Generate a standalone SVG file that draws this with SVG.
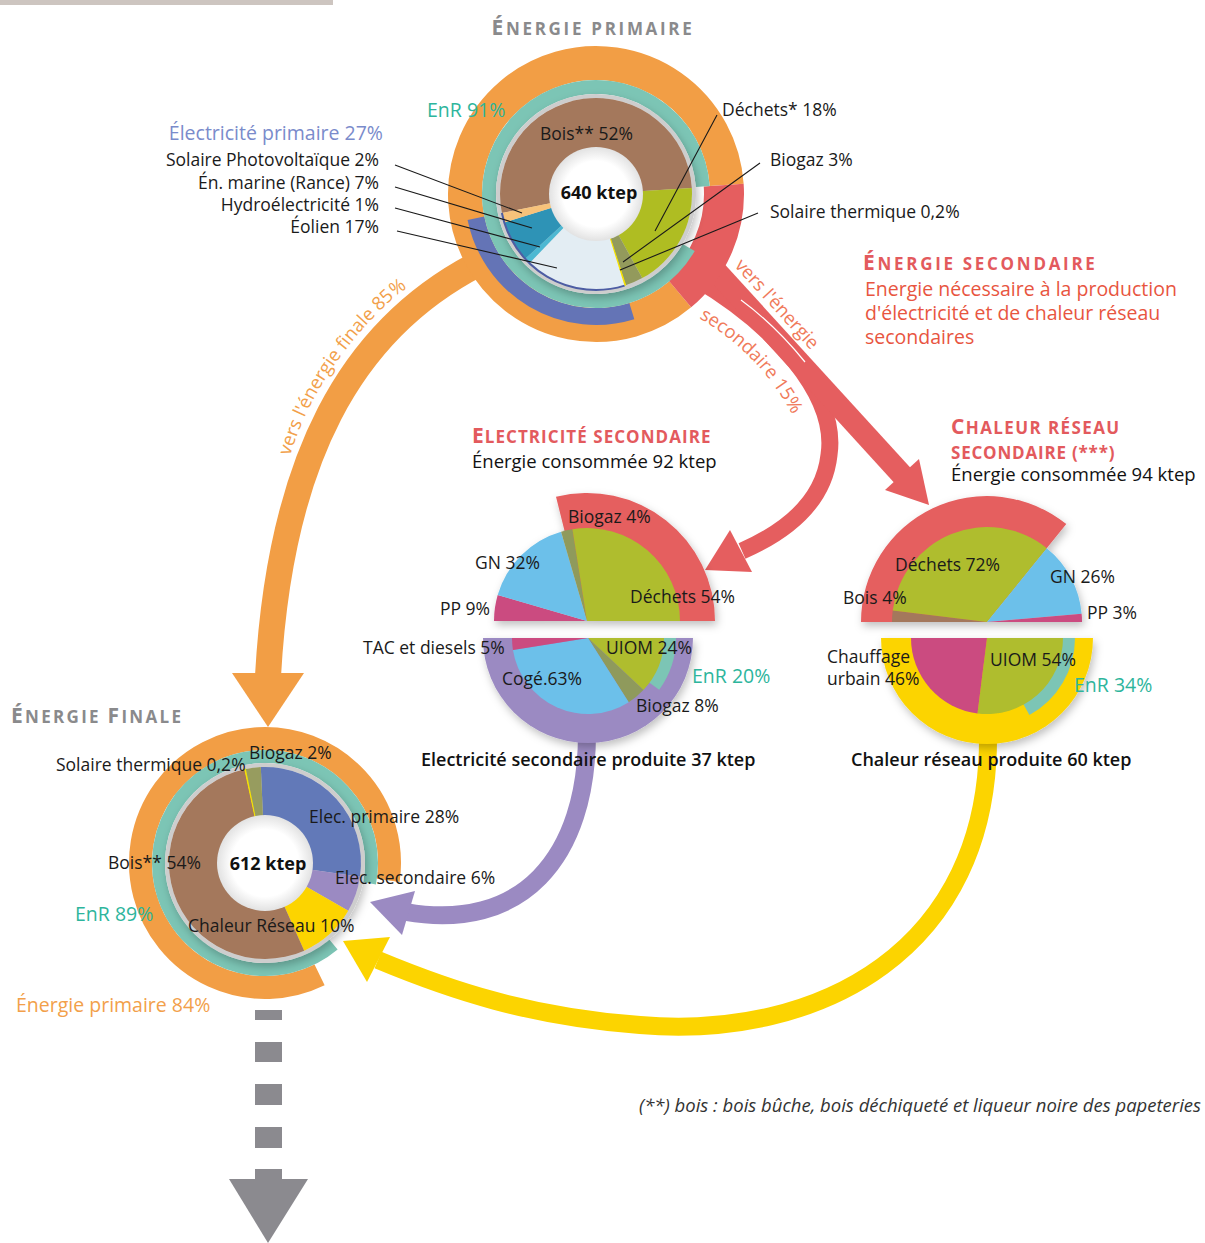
<svg xmlns="http://www.w3.org/2000/svg" width="1205" height="1243" viewBox="0 0 1205 1243">
<defs>
<style>
text{font-family:'Open Sans','Noto Sans','DejaVu Sans',sans-serif;}
.lb{font-size:17.5px;fill:#1a1a1a;}
.bk{font-size:18px;font-weight:700;fill:#111;}
.sub{font-size:18.5px;fill:#111;}
.prod{font-size:18px;font-weight:600;fill:#111;}
.ttl{font-weight:700;font-size:17px;letter-spacing:2px;}
.cap{font-size:21px;}
.gray{fill:#8a8a8c;}
.red{fill:#e35a5d;}
.enr{font-size:19.5px;fill:#2db59c;}
.para{font-size:19.5px;fill:#e8553f;}
.arrl{font-size:18.5px;fill:#f07a5a;}
.arro{font-size:18.5px;fill:#f2a04a;}
.ld{stroke:#1a1a1a;stroke-width:1.1;fill:none;}
.ring{fill:none;}
</style>
<filter id="sh" x="-20%" y="-20%" width="140%" height="150%">
<feDropShadow dx="2" dy="4" stdDeviation="4" flood-color="#000" flood-opacity="0.25"/>
</filter>
<radialGradient id="hole" cx="0.5" cy="0.5" r="0.5">
<stop offset="0.7" stop-color="#ffffff"/>
<stop offset="1" stop-color="#e2e2e2"/>
</radialGradient>
</defs>

<rect x="0" y="0" width="333" height="5" fill="#cdc5c0"/>

<g id="connectors">
 <g id="flow-finale">
  <path d="M478 264 C350 330 280 460 268 676" stroke="#f29e45" stroke-width="26" fill="none"/>
  <polygon points="232,673 304,673 268,727" fill="#f29e45"/>
  <path id="tp-fin" d="M290 456 C305 405 340 345 398 294 L470 245" fill="none"/>
  <text class="arro"><textPath href="#tp-fin">vers l'énergie finale 85%</textPath></text>
 </g>
 <g id="flow-sec-elec">
  <path d="M695 278 C775 325 838 395 829 455 C824 500 790 530 742 551" stroke="#e55e5f" stroke-width="17" fill="none"/>
  <polygon points="705,570 730,530 752,572" fill="#e55e5f"/>
 </g>
 <g id="flow-sec-chaleur">
  <path d="M705 259 L903 476" stroke="#e55e5f" stroke-width="22" fill="none"/>
  <polygon points="929,505 885,490 919,459" fill="#e55e5f"/>
 </g>
 <path d="M741 300 Q775 325 805 362" stroke="#ffffff" stroke-width="1.2" fill="none"/>
 <path id="tp-vers" d="M734 266 L880 426" fill="none"/>
 <text class="arrl"><textPath href="#tp-vers">vers l'énergie</textPath></text>
 <path id="tp-sec" d="M699 318 Q774 362 808 448" fill="none"/>
 <text class="arrl"><textPath href="#tp-sec">secondaire 15%</textPath></text>
 <g id="flow-elec-finale">
  <path d="M587 730 C588 860 520 932 406 912" stroke="#9b8ac2" stroke-width="18" fill="none"/>
  <polygon points="370,902 415,891 402,935" fill="#9b8ac2"/>
 </g>
 <g id="flow-chaleur-finale">
  <path d="M988 735 C990 950 820 1040 640 1025 C530 1017 450 990 378 960" stroke="#fcd400" stroke-width="18" fill="none"/>
  <polygon points="343,941 390,937 367,982" fill="#fcd400"/>
 </g>
 <g id="flow-usage" fill="#8b8a8f">
  <rect x="255" y="1010" width="27" height="10"/>
  <rect x="255" y="1042" width="27" height="20"/>
  <rect x="255" y="1084" width="27" height="21"/>
  <rect x="255" y="1127" width="27" height="21"/>
  <rect x="255" y="1169" width="27" height="11"/>
  <polygon points="229,1179 308,1179 268,1243"/>
 </g>
</g>

<g id="node-primaire">
 <text x="593" y="35" text-anchor="middle" class="ttl gray" style="letter-spacing:2.7px"><tspan class="cap">É</tspan>NERGIE PRIMAIRE</text>
 <path class="ring" d="M680.21 294.35 A131 131 0 1 1 726.68 184.86" stroke="#f29e45" stroke-width="34"/>
 <path d="M743.64 183.68 A148 148 0 0 1 691.13 307.37 L665.42 276.73 A108 108 0 0 0 703.74 186.47 Z" fill="#e55e5f"/>
 <path class="ring" d="M631.82 311.15 A122.5 122.5 0 0 1 475.91 218.22" stroke="#6474b6" stroke-width="17"/>
 <path class="ring" d="M688.66 247.5 A107 107 0 1 1 702.74 186.53" stroke="#7cc5b5" stroke-width="14"/>
 <g filter="url(#sh)">
  <circle cx="596" cy="194" r="98" fill="none" stroke="#cdcdcd" stroke-width="4"/>
  <path d="M596 194 L501.89 212.98 A96 96 0 1 1 691.81 187.97 Z" fill="#a4785c"/>
  <path d="M596 194 L691.81 187.97 A96 96 0 0 1 642.25 278.12 Z" fill="#afbd22"/>
  <path d="M596 194 L642.25 278.12 A96 96 0 0 1 625.66 285.30 Z" fill="#939a5c"/>
  <path d="M596 194 L625.66 285.30 A96 96 0 0 1 624.55 285.66 Z" fill="#f5e100" stroke="#f5e100" stroke-width="1"/>
  <path d="M596 194 L624.55 285.66 A96 96 0 0 1 529.43 263.18 Z" fill="#e3edf3"/>
  <path d="M596 194 L529.43 263.18 A96 96 0 0 1 525.22 258.86 Z" fill="#4db8d2"/>
  <path d="M596 194 L525.22 258.86 A96 96 0 0 1 504.34 222.55 Z" fill="#2f93b6"/>
  <path d="M596 194 L504.34 222.55 A96 96 0 0 1 501.89 212.98 Z" fill="#f7c27a"/>
  <path class="ring" d="M624.55 285.66 A96 96 0 0 1 501.89 212.98" stroke="#4d5da3" stroke-width="2"/>
  <circle cx="596" cy="194" r="47" fill="url(#hole)"/>
 </g>
 <text x="540" y="140" class="lb">Bois** 52%</text>
 <text x="599" y="199" text-anchor="middle" class="bk">640 ktep</text>
 <text x="427" y="117" class="enr">EnR 91%</text>
 <text x="383" y="140" text-anchor="end" style="font-size:19.5px;fill:#7a8bcb">Électricité primaire 27%</text>
 <text x="379" y="166" text-anchor="end" class="lb">Solaire Photovoltaïque 2%</text>
 <text x="379" y="189" text-anchor="end" class="lb">Én. marine (Rance) 7%</text>
 <text x="379" y="211" text-anchor="end" class="lb">Hydroélectricité 1%</text>
 <text x="379" y="233" text-anchor="end" class="lb">Éolien 17%</text>
 <text x="722" y="116" class="lb">Déchets* 18%</text>
 <text x="770" y="166" class="lb">Biogaz 3%</text>
 <text x="770" y="218" class="lb">Solaire thermique 0,2%</text>
 <path class="ld" d="M395 165 L522 213 M395 187 L532 228 M395 208 L540 247 M397 231 L557 268 M717 115 L655 231 M760 163 L623 262 M758 213 L620 270"/>
</g>

<g id="node-secondaire-titre">
 <text x="863" y="270" class="ttl red" style="letter-spacing:2.7px"><tspan class="cap">É</tspan>NERGIE SECONDAIRE</text>
 <text x="865" y="296" class="para">Energie nécessaire à la production</text>
 <text x="865" y="320" class="para">d'électricité et de chaleur réseau</text>
 <text x="865" y="344" class="para">secondaires</text>
</g>

<g id="node-elec-secondaire">
 <text x="472" y="443" class="ttl red" style="letter-spacing:1.05px"><tspan class="cap">E</tspan>LECTRICITÉ SECONDAIRE</text>
 <text x="472" y="468" class="sub">Énergie consommée 92 ktep</text>
 <g filter="url(#sh)">
  <path d="M587 621 L556.03 496.8 A128 128 0 0 1 715 621 Z" fill="#e55e5f"/>
  <path d="M587 621 L494 621 A93 93 0 0 1 497.69 595.05 Z" fill="#cb4b80"/>
  <path d="M587 621 L497.69 595.05 A93 93 0 0 1 561.05 531.69 Z" fill="#6cc0ea"/>
  <path d="M587 621 L561.05 531.69 A93 93 0 0 1 572.45 529.14 Z" fill="#8f9a5c"/>
  <path d="M587 621 L572.45 529.14 A93 93 0 0 1 680 621 Z" fill="#afbd2d"/>
 </g>
 <g filter="url(#sh)">
  <path d="M693 638 A105 105 0 0 1 483 638 Z" fill="#9b8ac2"/>
  <path d="M588 638 L676 638 A88 88 0 0 1 659.19 689.73 Z" fill="#7cc5b5"/>
  <path d="M588 638 L664 638 A76 76 0 0 1 643.40 690.02 Z" fill="#afbd2d"/>
  <path d="M588 638 L643.40 690.02 A76 76 0 0 1 628.72 702.17 Z" fill="#8f9a5c"/>
  <path d="M588 638 L628.72 702.17 A76 76 0 0 1 512.94 649.89 Z" fill="#6cc0ea"/>
  <path d="M588 638 L512.94 649.89 A76 76 0 0 1 512 638 Z" fill="#cb4b80"/>
 </g>
 <text x="568" y="523" class="lb">Biogaz 4%</text>
 <text x="475" y="569" class="lb">GN 32%</text>
 <text x="630" y="603" class="lb">Déchets 54%</text>
 <text x="440" y="615" class="lb">PP 9%</text>
 <text x="363" y="654" class="lb">TAC et diesels 5%</text>
 <text x="606" y="654" class="lb">UIOM 24%</text>
 <text x="692" y="683" class="enr">EnR 20%</text>
 <text x="502" y="685" class="lb">Cogé.63%</text>
 <text x="636" y="712" class="lb">Biogaz 8%</text>
 <text x="421" y="766" class="prod">Electricité secondaire produite 37 ktep</text>
</g>

<g id="node-chaleur-secondaire">
 <text x="951" y="434" class="ttl red" style="letter-spacing:1.4px"><tspan class="cap">C</tspan>HALEUR RÉSEAU</text>
 <text x="951" y="459" class="ttl red" style="letter-spacing:0.8px">SECONDAIRE (***)</text>
 <text x="951" y="481" class="sub">Énergie consommée 94 ktep</text>
 <g filter="url(#sh)">
  <path d="M987 622 L861 622 A126 126 0 0 1 1066.29 524.09 Z" fill="#e55e5f"/>
  <path d="M987 622 L892 622 A95 95 0 0 1 892.71 610.42 Z" fill="#a4785c"/>
  <path d="M987 622 L892.71 610.42 A95 95 0 0 1 1046.78 548.17 Z" fill="#afbd2d"/>
  <path d="M987 622 L1046.78 548.17 A95 95 0 0 1 1081.64 613.72 Z" fill="#6cc0ea"/>
  <path d="M987 622 L1081.64 613.72 A95 95 0 0 1 1082 622 Z" fill="#cb4b80"/>
 </g>
 <g filter="url(#sh)">
  <path d="M1093 638 A106 106 0 0 1 881 638 Z" fill="#fcd400"/>
  <path d="M987 638 L1075 638 A88 88 0 0 1 1029.40 715.11 Z" fill="#7cc5b5"/>
  <path d="M987 638 L1063 638 A76 76 0 0 1 977.47 713.40 Z" fill="#afbd2d"/>
  <path d="M987 638 L977.47 713.40 A76 76 0 0 1 911 638 Z" fill="#cb4b80"/>
 </g>
 <text x="895" y="571" class="lb">Déchets 72%</text>
 <text x="1050" y="583" class="lb">GN 26%</text>
 <text x="843" y="604" class="lb">Bois 4%</text>
 <text x="1087" y="619" class="lb">PP 3%</text>
 <text x="827" y="663" class="lb">Chauffage</text>
 <text x="827" y="685" class="lb">urbain 46%</text>
 <text x="990" y="666" class="lb">UIOM 54%</text>
 <text x="1074" y="692" class="enr">EnR 34%</text>
 <text x="851" y="766" class="prod">Chaleur réseau produite 60 ktep</text>
</g>

<g id="node-finale">
 <text x="11" y="723" class="ttl gray" style="letter-spacing:2.3px"><tspan class="cap">É</tspan>NERGIE <tspan class="cap">F</tspan>INALE</text>
 <path class="ring" d="M319.58 974.90 A124.5 124.5 0 1 1 388.29 880.33" stroke="#f29e45" stroke-width="23"/>
 <path class="ring" d="M333.46 944.58 A106.5 106.5 0 1 1 369.54 883.32" stroke="#7cc5b5" stroke-width="13"/>
 <g filter="url(#sh)">
  <circle cx="265" cy="863" r="98" fill="none" stroke="#cdcdcd" stroke-width="4"/>
  <path d="M265 863 L260.81 767.09 A96 96 0 0 1 359.99 876.86 Z" fill="#6279b8"/>
  <path d="M265 863 L359.99 876.86 A96 96 0 0 1 348.22 910.86 Z" fill="#9b8ac2"/>
  <path d="M265 863 L348.22 910.86 A96 96 0 0 1 304.20 950.63 Z" fill="#fcd400"/>
  <path d="M265 863 L304.20 950.63 A96 96 0 1 1 244.72 769.17 Z" fill="#a4785c"/>
  <path d="M265 863 L244.72 769.17 A96 96 0 0 1 245.86 768.93 Z" fill="#f5e100" stroke="#f5e100" stroke-width="1"/>
  <path d="M265 863 L245.86 768.93 A96 96 0 0 1 260.81 767.09 Z" fill="#979c5e"/>
  <circle cx="265" cy="863" r="48" fill="url(#hole)"/>
 </g>
 <text x="56" y="771" class="lb">Solaire thermique 0,2%</text>
 <text x="249" y="759" class="lb">Biogaz 2%</text>
 <text x="309" y="823" class="lb">Elec. primaire 28%</text>
 <text x="108" y="869" class="lb">Bois** 54%</text>
 <text x="268" y="870" text-anchor="middle" class="bk">612 ktep</text>
 <text x="335" y="884" class="lb">Elec. secondaire 6%</text>
 <text x="75" y="921" class="enr">EnR 89%</text>
 <text x="188" y="932" class="lb">Chaleur Réseau 10%</text>
 <text x="16" y="1012" style="font-size:19.5px;fill:#f2a04a">Énergie primaire 84%</text>
</g>

<text x="1201" y="1112" text-anchor="end" style="font-size:18.5px;font-style:italic;fill:#333">(**) bois : bois bûche, bois déchiqueté et liqueur noire des papeteries</text>
</svg>
